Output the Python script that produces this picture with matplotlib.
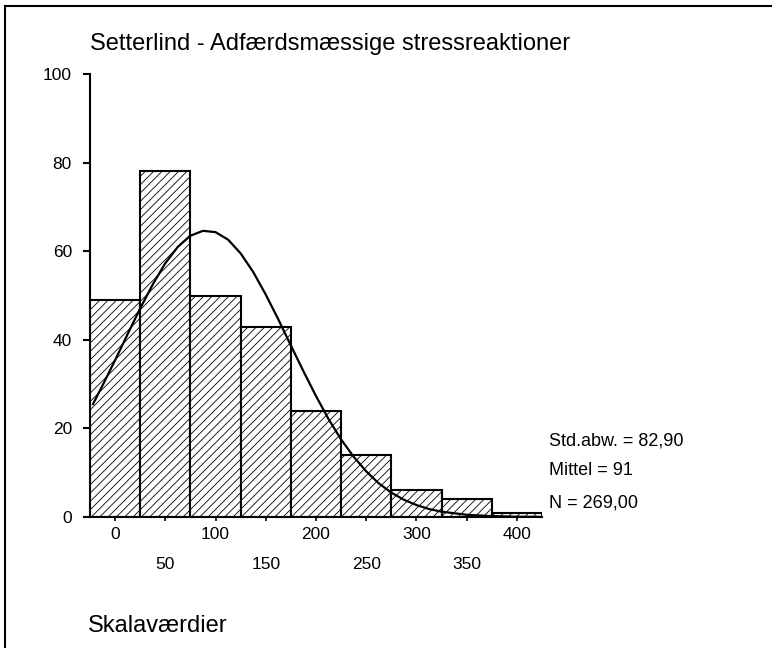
import matplotlib
matplotlib.use("Agg")
import matplotlib.pyplot as plt
from matplotlib.lines import Line2D

plt.rcParams['font.family'] = ['Liberation Sans', 'DejaVu Sans']
plt.rcParams['hatch.linewidth'] = 0.6

# histogram data (bin centres, counts)
bin_centers = [0, 50, 100, 150, 200, 250, 300, 350, 400]
counts = [49, 78, 50, 43, 24, 14, 6, 4, 1]
bin_width = 50

# normal curve
curve_x = [-22, -12.5, 0, 12.5, 25, 37.5, 50, 62.5, 75, 87.5, 100, 112.5, 125, 137.5,
           150, 162.5, 175, 187.5, 200, 212.5, 225, 237.5, 250, 262.5, 275, 287.5,
           300, 312.5, 325, 350, 375, 400, 425]
curve_y = [25.5, 29.7, 35.4, 41.3, 47.1, 52.5, 57.3, 61.0, 63.5, 64.6, 64.3, 62.6, 59.5, 55.3,
           50.2, 44.6, 38.7, 32.9, 27.3, 22.1, 17.5, 13.6, 10.3, 7.6, 5.5, 3.9,
           2.7, 1.8, 1.2, 0.5, 0.2, 0.06, 0.02]

x_ticks = [0, 50, 100, 150, 200, 250, 300, 350, 400]
y_ticks = [0, 20, 40, 60, 80, 100]

title = "Setterlind - Adfærdsmæssige stressreaktioner"
xlabel = "Skalaværdier"
stats = ["Std.abw. = 82,90", "Mittel = 91", "N = 269,00"]

fig = plt.figure(figsize=(7.72, 6.48), dpi=100)
ax = fig.add_axes([90 / 772, 1 - 517 / 648, (542 - 90) / 772, (517 - 74) / 648])

ax.bar(bin_centers, counts, width=bin_width, color='white', edgecolor='black',
       hatch='////', linewidth=1.5, zorder=2)
ax.plot(curve_x, curve_y, color='black', linewidth=1.6, zorder=3)

ax.set_xlim(-25, 425)
ax.set_ylim(0, 100)
for side in ['top', 'right']:
    ax.spines[side].set_visible(False)
for side in ['left', 'bottom']:
    ax.spines[side].set_linewidth(1.5)

ax.set_yticks(y_ticks)
ax.tick_params(axis='y', direction='out', length=5, width=1.5, pad=8, labelsize=12.5)
ax.set_xticks(x_ticks)
ax.set_xticklabels([str(v) for v in x_ticks])
ax.tick_params(axis='x', direction='out', length=3, width=1.2, pad=4, labelsize=12.5)
# staggered labels: 50, 150, ... on a second row
for i, t in enumerate(ax.xaxis.get_major_ticks()):
    if i % 2 == 1:
        t.set_pad(25.5)

fig.text(90 / 772, 1 - 50 / 648, title, fontsize=17, ha='left', va='baseline')
fig.text(88 / 772, 1 - 632 / 648, xlabel, fontsize=17, ha='left', va='baseline')

for s, yb in zip(stats, [445, 475, 507]):
    fig.text(549 / 772, 1 - yb / 648, s, fontsize=13, ha='left', va='baseline')

# frame lines (left and top)
fig.add_artist(Line2D([4.5 / 772, 4.5 / 772], [0, 1 - 6 / 648], transform=fig.transFigure,
                      color='black', linewidth=1.5))
fig.add_artist(Line2D([4.5 / 772, 1], [1 - 6 / 648, 1 - 6 / 648], transform=fig.transFigure,
                      color='black', linewidth=1.5))

fig.savefig("out.png", dpi=100)
